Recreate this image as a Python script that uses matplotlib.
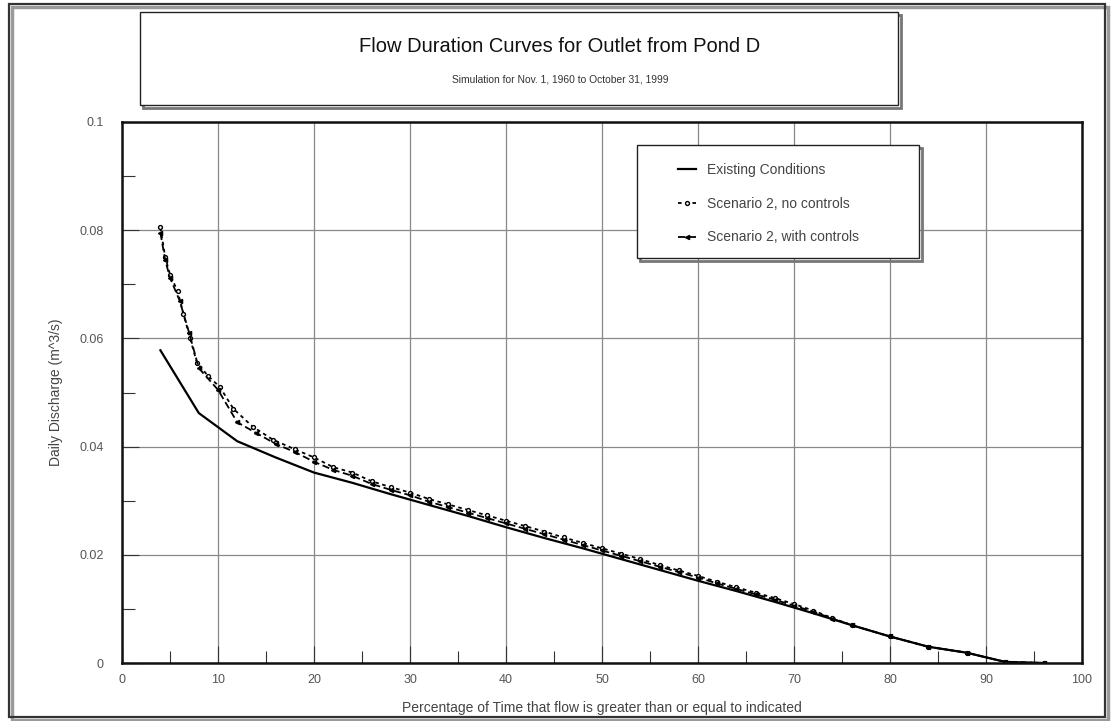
import matplotlib
matplotlib.use("Agg")
import matplotlib.pyplot as plt
from matplotlib.patches import Rectangle
from matplotlib.ticker import MultipleLocator, FuncFormatter

plt.rcParams['font.family'] = ['Liberation Sans', 'DejaVu Sans']

# ---- data ----
x_existing = [4, 8, 12, 16, 20, 24, 28, 32, 36, 40, 44, 48, 52, 56, 60, 64,
              68, 72, 76, 80, 84, 88, 92, 96]
y_existing = [0.0578, 0.0462, 0.0410, 0.0380, 0.0352, 0.0333, 0.0312, 0.0292,
              0.0272, 0.0251, 0.0231, 0.0212, 0.0192, 0.0172, 0.0152, 0.0133,
              0.0113, 0.0092, 0.0070, 0.0049, 0.0030, 0.0019, 0.0002, 0.0]

x_no_ctrl = [4, 4.5, 5, 5.8, 6.4, 7.1, 7.8, 9, 10.2, 11.6, 13.6, 15.7, 18, 20,
             22, 24, 26, 28, 30, 32, 34, 36, 38, 40, 42, 44, 46, 48, 50, 52,
             54, 56, 58, 60, 62, 64, 66, 68, 70, 72, 74, 76, 80, 84, 88, 92, 96]
y_no_ctrl = [0.0805, 0.0750, 0.0718, 0.0687, 0.0645, 0.0600, 0.0555, 0.0530,
             0.0510, 0.0470, 0.0437, 0.0413, 0.0395, 0.0380, 0.0362, 0.0352,
             0.0336, 0.0325, 0.0315, 0.0303, 0.0293, 0.0283, 0.0273, 0.0263,
             0.0253, 0.0243, 0.0232, 0.0222, 0.0212, 0.0202, 0.0192, 0.0181,
             0.0171, 0.0161, 0.0150, 0.0140, 0.0130, 0.0120, 0.0109, 0.0097,
             0.0083, 0.0070, 0.0049, 0.0030, 0.0019, 0.0002, 0.0]

x_with_ctrl = [4, 4.5, 5, 6, 7, 8, 10, 12, 14, 16, 18, 20, 22, 24, 26, 28, 30,
               32, 34, 36, 38, 40, 42, 44, 46, 48, 50, 52, 54, 56, 58, 60, 62,
               64, 66, 68, 70, 72, 74, 76, 80, 84, 88, 92, 96]
y_with_ctrl = [0.0795, 0.0745, 0.0712, 0.0670, 0.0610, 0.0545, 0.0505, 0.0445,
               0.0425, 0.0405, 0.0390, 0.0372, 0.0357, 0.0346, 0.0331, 0.0320,
               0.0310, 0.0298, 0.0288, 0.0278, 0.0268, 0.0258, 0.0248, 0.0238,
               0.0228, 0.0218, 0.0208, 0.0198, 0.0188, 0.0178, 0.0168, 0.0158,
               0.0147, 0.0137, 0.0127, 0.0117, 0.0106, 0.0095, 0.0082, 0.0070,
               0.0049, 0.0030, 0.0019, 0.0002, 0.0]

labels = ["Existing Conditions", "Scenario 2, no controls",
          "Scenario 2, with controls"]

title = "Flow Duration Curves for Outlet from Pond D"
subtitle = "Simulation for Nov. 1, 1960 to October 31, 1999"
xlabel = "Percentage of Time that flow is greater than or equal to indicated"
ylabel = "Daily Discharge (m^3/s)"

# ---- figure ----
W, H = 1111, 721
fig = plt.figure(figsize=(W / 100, H / 100), dpi=100)

def px_rect(x0, y0, x1, y1, **kw):
    # rectangle given in picture pixels (top-left origin)
    kw.setdefault("fill", False)
    return Rectangle((x0 / W, 1 - y1 / H), (x1 - x0) / W, (y1 - y0) / H,
                     transform=fig.transFigure, **kw)

# outer frame with shadow
fig.patches.append(px_rect(12, 7, 1108, 720, lw=2.5, edgecolor="#9a9a9a"))
fig.patches.append(px_rect(9, 4, 1105, 717, lw=1.6, edgecolor="#333333"))

# title box with shadow
fig.patches.append(px_rect(143, 15, 901, 108, lw=2.0, edgecolor="#777777"))
fig.patches.append(px_rect(140, 12, 898, 105, lw=1.0, edgecolor="#222222",
                           facecolor="white", fill=True))
fig.text(0.504, 1 - 46 / H, title, ha="center", va="center", fontsize=14.5,
         color="#111111")
fig.text(0.504, 1 - 80 / H, subtitle, ha="center", va="center", fontsize=7.4,
         color="#333333")

ax = fig.add_axes([122 / W, 1 - 663 / H, (1082 - 122) / W, (663 - 122) / H])

ax.plot(x_existing, y_existing, color="black", lw=1.6, label=labels[0])
ax.plot(x_no_ctrl, y_no_ctrl, color="black", lw=1.3, ls=(0, (2, 2)),
        marker="o", ms=2.8, mfc="white", mew=1.0, label=labels[1])
ax.plot(x_with_ctrl, y_with_ctrl, color="black", lw=1.3, ls=(0, (4, 2)),
        marker="<", ms=3, label=labels[2])

ax.set_xlim(0, 100)
ax.set_ylim(0, 0.1)
ax.xaxis.set_major_locator(MultipleLocator(10))
ax.xaxis.set_minor_locator(MultipleLocator(5))
ax.yaxis.set_major_locator(MultipleLocator(0.02))
ax.yaxis.set_minor_locator(MultipleLocator(0.01))
ax.yaxis.set_major_formatter(FuncFormatter(lambda v, p: f"{v:g}"))
ax.grid(True, which="major", color="#888888", lw=0.9)
ax.set_axisbelow(True)
ax.tick_params(which="both", direction="in", labelsize=9, labelcolor="#555555",
               color="#333333")
ax.tick_params(which="major", length=12, width=0.8)
ax.tick_params(axis="x", which="major", pad=8)
ax.tick_params(axis="y", which="major", pad=13)
ax.tick_params(which="minor", length=9, width=0.8)
for s in ax.spines.values():
    s.set_linewidth(1.8)
    s.set_color("#111111")

ax.set_xlabel(xlabel, fontsize=10, color="#444444", labelpad=11)
ax.set_ylabel(ylabel, fontsize=10, color="#444444", labelpad=12)

# legend frame (drawn by hand to match the reference box size)
ax.add_patch(px_rect(640, 148, 922, 261, lw=2.0, edgecolor="#777777",
                     zorder=4, clip_on=False))
ax.add_patch(px_rect(637, 145, 919, 258, lw=1.0, edgecolor="#222222",
                     facecolor="white", fill=True, zorder=4.5, clip_on=False))

leg = ax.legend(loc="upper left", bbox_to_anchor=(678 / W, 1 - 163 / H),
                bbox_transform=fig.transFigure, fontsize=10, frameon=False,
                handlelength=1.3, borderpad=0, labelspacing=1.42,
                handletextpad=0.8, borderaxespad=0)
leg.set_zorder(6)
for t in leg.get_texts():
    t.set_color("#444444")

fig.savefig("out.png", dpi=100)
